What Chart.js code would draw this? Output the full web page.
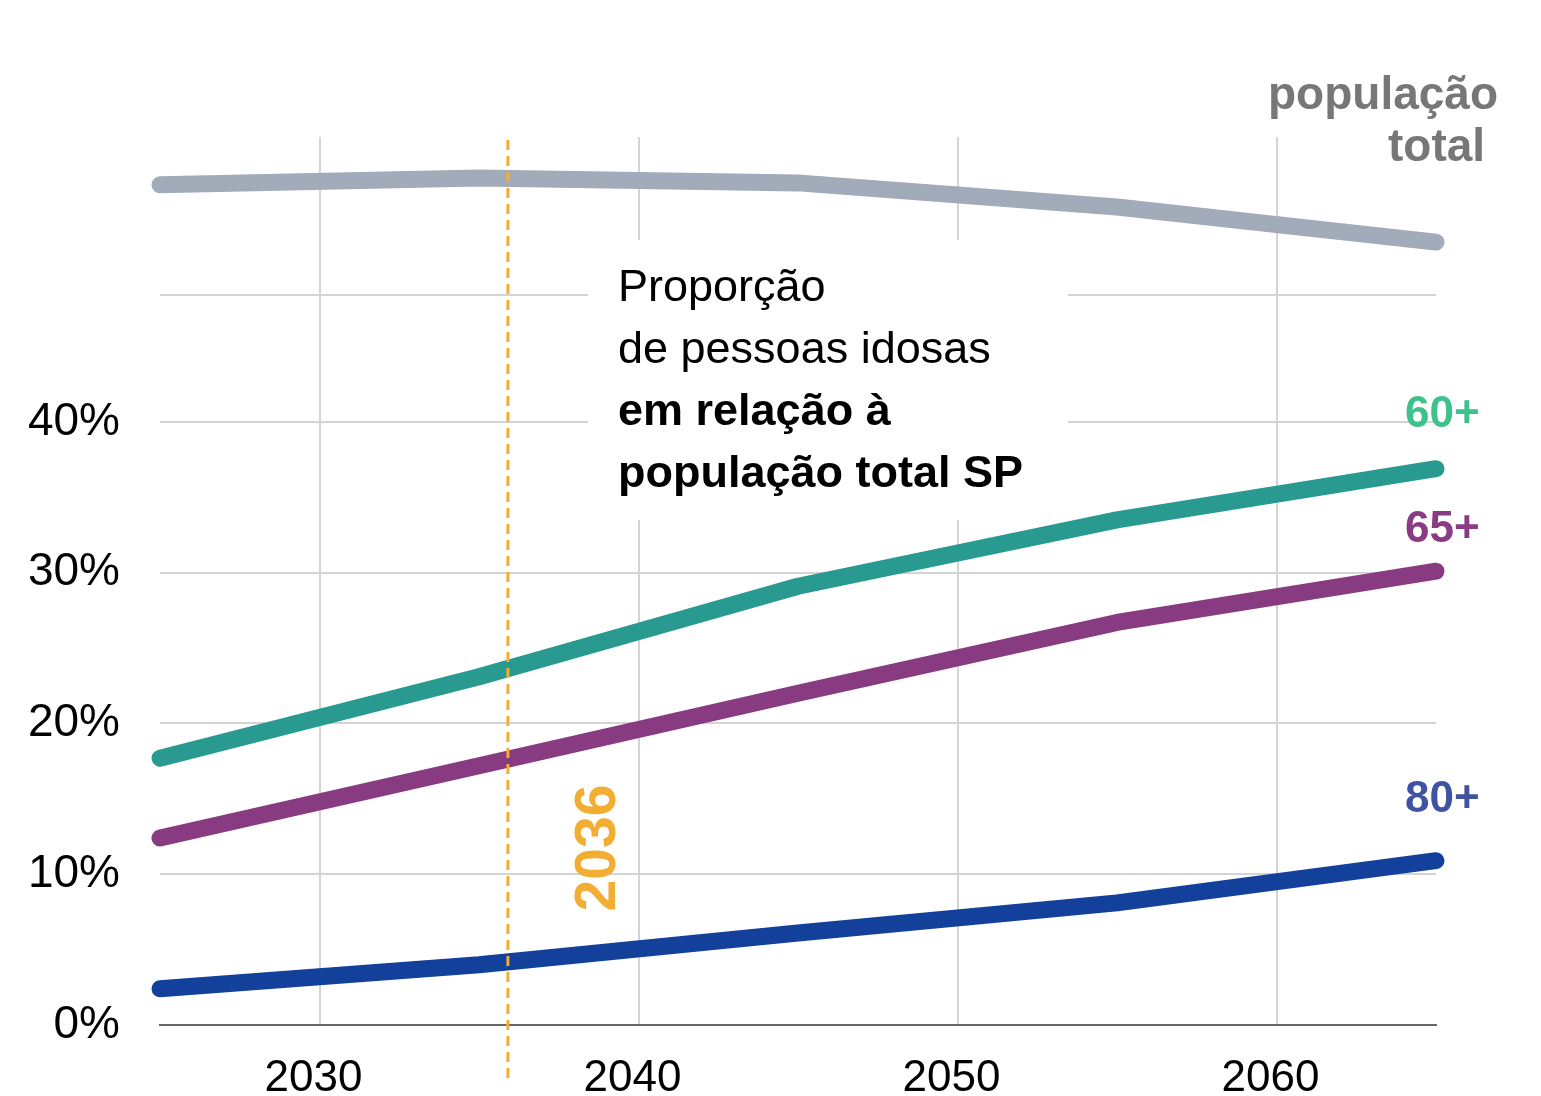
<!DOCTYPE html>
<html>
<head>
<meta charset="utf-8">
<script src="https://cdn.jsdelivr.net/npm/chart.js@4"></script>
<style>
  html, body { margin: 0; padding: 0; background: #fff; }
  #wrap { width: 1541px; height: 1096px; }
</style>
</head>
<body>
<div id="wrap"><canvas id="chart" width="1541" height="1096"></canvas></div>
<script>
// anos das projeções
const years = [2025, 2035, 2045, 2055, 2065];
// % de pessoas idosas na população total de SP
const idosos60 = [17.7, 23.1, 29.1, 33.5, 36.9];
const idosos65 = [12.4, 17.2, 22.0, 26.7, 30.1];
const idosos80 = [2.4, 4.0, 6.1, 8.1, 10.9];
// população total (milhões, eixo escondido)
const popTotal = [47.03, 47.17, 47.07, 46.58, 45.87];

const xTicks = [2030, 2040, 2050, 2060];
const yTicks = [0, 10, 20, 30, 40, 48.4];
const yLabels = ['0%', '10%', '20%', '30%', '40%', ''];
const markYear = 2036;

const FONT = '"Liberation Sans", Arial, sans-serif';

const toPts = (vals) => vals.map((v, i) => ({ x: years[i], y: v }));

const lineStyle = {
  borderWidth: 17,
  pointRadius: 0,
  borderCapStyle: 'round',
  borderJoinStyle: 'round',
  tension: 0,
  fill: false,
  clip: false
};

const overlay = {
  id: 'overlay',
  beforeDatasetsDraw(chart) {
    // fundo branco atrás do texto
    const c = chart.ctx;
    c.save();
    c.fillStyle = '#fff';
    c.fillRect(588, 240, 480, 280);
    c.restore();
  },
  afterDatasetsDraw(chart) {
    const c = chart.ctx;
    const x = chart.scales.x.getPixelForValue(markYear) - 3;
    c.save();
    c.strokeStyle = '#f2ad33';
    c.lineWidth = 3;
    c.setLineDash([10, 6]);
    c.beginPath();
    c.moveTo(x, 140);
    c.lineTo(x, 1080);
    c.stroke();
    c.restore();
  },
  afterDraw(chart) {
    const c = chart.ctx;
    c.save();
    c.textBaseline = 'middle';
    c.textAlign = 'left';

    c.fillStyle = '#000';
    c.font = '45px ' + FONT;
    c.fillText('Proporção', 618, 289);
    c.fillText('de pessoas idosas', 618, 351);
    c.font = 'bold 45px ' + FONT;
    c.fillText('em relação à', 618, 413);
    c.fillText('população total SP', 618, 475);

    c.fillStyle = '#777';
    c.font = 'bold 46px ' + FONT;
    c.fillText('população', 1268, 96);
    c.fillText('total', 1388, 148);

    c.font = 'bold 44px ' + FONT;
    c.fillStyle = '#3ec28c';
    c.fillText('60+', 1405, 415);
    c.fillStyle = '#893b83';
    c.fillText('65+', 1405, 530);
    c.fillStyle = '#4053a3';
    c.fillText('80+', 1405, 800);

    // rótulo 2036
    c.translate(599, 848);
    c.rotate(-Math.PI / 2);
    c.textAlign = 'center';
    c.fillStyle = '#f2ad33';
    c.font = 'bold 57px ' + FONT;
    c.fillText(String(markYear), 0, 0);
    c.restore();
  }
};

new Chart(document.getElementById('chart'), {
  type: 'line',
  data: {
    datasets: [
      Object.assign({ label: '60+', data: toPts(idosos60), borderColor: '#289a90' }, lineStyle),
      Object.assign({ label: '65+', data: toPts(idosos65), borderColor: '#883b80' }, lineStyle),
      Object.assign({ label: '80+', data: toPts(idosos80), borderColor: '#12409b' }, lineStyle),
      Object.assign({ label: 'população total', data: toPts(popTotal), borderColor: '#a2abba', yAxisID: 'y1' }, lineStyle)
    ]
  },
  plugins: [overlay],
  options: {
    responsive: false,
    animation: false,
    layout: { padding: { top: 137, right: 105, bottom: 0, left: 0 } },
    plugins: {
      legend: { display: false },
      tooltip: { enabled: false }
    },
    scales: {
      x: {
        type: 'linear',
        min: 2025,
        max: 2065,
        afterBuildTicks: (axis) => { axis.ticks = xTicks.map(v => ({ value: v })); },
        afterFit: (axis) => { axis.height = 71; },
        grid: { color: '#d4d4d4', lineWidth: 2, drawTicks: false },
        border: { color: '#666', width: 2 },
        ticks: {
          color: '#000',
          padding: 27,
          labelOffset: -6,
          font: { family: FONT, size: 44 },
          callback: (v) => String(v)
        }
      },
      y: {
        min: 0,
        max: 58.9,
        afterBuildTicks: (axis) => { axis.ticks = yTicks.map(v => ({ value: v })); },
        afterFit: (axis) => { axis.width = 160; },
        grid: { color: '#d4d4d4', lineWidth: 2, drawTicks: false },
        border: { display: false },
        ticks: {
          color: '#000',
          padding: 40,
          font: { family: FONT, size: 46 },
          callback: (v, i) => yLabels[i]
        }
      },
      y1: {
        display: false,
        min: 30,
        max: 48
      }
    }
  }
});
</script>
</body>
</html>
